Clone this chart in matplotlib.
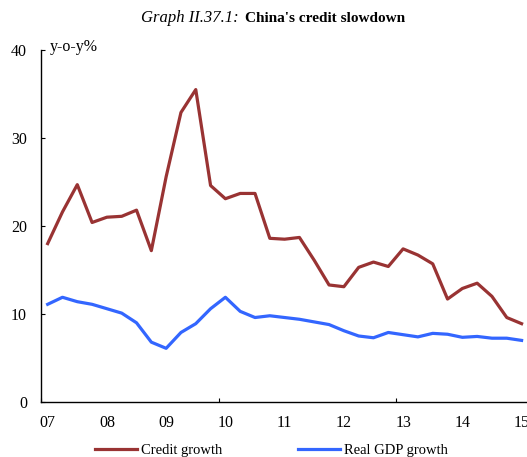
import matplotlib.pyplot as plt
import numpy as np

plt.rcParams['font.family'] = ['Liberation Serif', 'DejaVu Serif']

# quarterly data, 2007Q1 - 2015Q1 (y-o-y %)
credit_growth = [18.0, 21.6, 24.7, 20.4, 21.0, 21.1, 21.8, 17.2, 25.6, 32.9, 35.5,
                 24.6, 23.1, 23.7, 23.7, 18.6, 18.5, 18.7, 16.1, 13.3, 13.1, 15.3,
                 15.9, 15.4, 17.4, 16.7, 15.7, 11.7, 12.9, 13.5, 12.0, 9.6, 8.9]
gdp_growth = [11.1, 11.9, 11.4, 11.1, 10.6, 10.1, 9.0, 6.8, 6.1, 7.9, 8.9,
              10.6, 11.9, 10.3, 9.6, 9.8, 9.6, 9.4, 9.1, 8.8, 8.1, 7.5,
              7.3, 7.9, 7.65, 7.4, 7.8, 7.7, 7.35, 7.45, 7.25, 7.25, 7.0]
year_labels = ['07', '08', '09', '10', '11', '12', '13', '14', '15']
boundary_years = [0, 3, 6]  # ticks every 3 years (07, 10, 13)

W, H = 527, 457
fig = plt.figure(figsize=(W / 100, H / 100), dpi=100)

# axis geometry in pixels
px0 = 41
py0, py1 = 402, 50
xmin, xmax = -0.45, 33.4
pq = 14.81  # pixels per quarter
ax = fig.add_axes([px0 / W, 1 - py0 / H, (xmax - xmin) * pq / W, (py0 - py1) / H])

x = np.arange(len(credit_growth))
ax.plot(x, credit_growth, color='#993333', lw=2.3, label='Credit growth')
ax.plot(x, gdp_growth, color='#3366FF', lw=2.3, label='Real GDP growth')

ax.set_ylim(0, 40)
ax.set_yticks([0, 10, 20, 30, 40])
ax.tick_params(axis='y', direction='in', length=3, width=0.8, pad=10, labelsize=11.5)

ax.set_xticks(np.arange(len(year_labels)) * 4)
ax.set_xticklabels(year_labels)
ax.tick_params(axis='x', which='major', length=0, pad=9.5, labelsize=11.5)
ax.set_xticks([4 * y - 0.45 for y in boundary_years], minor=True)
ax.tick_params(axis='x', which='minor', direction='in', length=3, width=0.8)
ax.set_xlim(xmin, xmax)

for s in ['top', 'right']:
    ax.spines[s].set_visible(False)
for s in ['left', 'bottom']:
    ax.spines[s].set_linewidth(1.0)

fig.text(50 / W, 1 - 47 / H, 'y-o-y%', fontsize=11.5, va='center', ha='left')

# title: italic label + bold text
fig.text(239 / W, 1 - 18 / H, 'Graph II.37.1:', style='italic', fontsize=12, ha='right', va='center')
fig.text(245 / W, 1 - 18 / H, "China's credit slowdown", weight='bold', fontsize=11, ha='left', va='center')

fig.legend(loc='center', bbox_to_anchor=(271 / W, 1 - 450 / H), ncol=2, frameon=False,
           fontsize=10.5, handlelength=2.9, handletextpad=0.25, columnspacing=5.2)

fig.savefig('out.png', dpi=100)
